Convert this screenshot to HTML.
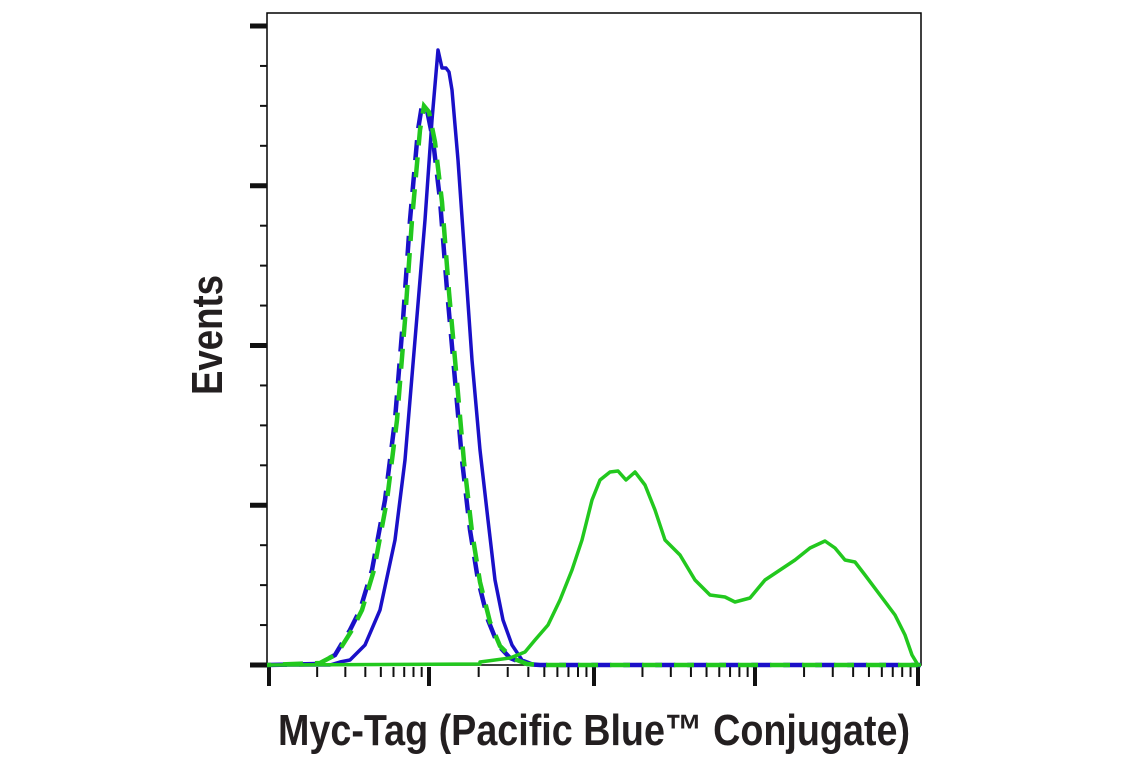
<!DOCTYPE html>
<html><head><meta charset="utf-8"><style>
html,body{margin:0;padding:0;background:#fff;}
svg{display:block;}
</style></head><body>
<svg id="s" width="1141" height="768" viewBox="0 0 1141 768" xmlns="http://www.w3.org/2000/svg">
<rect x="267" y="13" width="654" height="652" fill="none" stroke="#000" stroke-width="1.5"/>
<g id="ticks" stroke="#111"></g>
<polyline fill="none" stroke="#1a10c8" stroke-width="3.5" stroke-linejoin="round" points="267,665 330,665 340,662 350,660 365,645 380,610 395,540 405,460 415,340 425,220 432,120 438,50 442,68 446,68 449,72 452,90 458,160 465,260 472,360 480,450 488,520 495,580 503,620 512,645 522,660 535,665 921,665"/>
<polyline fill="none" stroke="#1a10c8" stroke-width="4.5" stroke-dasharray="20,12" points="267,665 318,664 335,655 350,630 360,610 372,570 385,500 395,420 403,320 410,220 418,130 422,105 427,110 433,140 440,200 447,290 455,380 462,460 470,530 478,580 488,620 498,645 510,658 525,664 540,665 921,665"/>
<polyline fill="none" stroke="#22c81e" stroke-width="4.5" stroke-dasharray="20,12" stroke-dashoffset="16" points="267,665 320,663 337,654 352,630 362,610 374,570 387,500 397,420 405,320 412,220 420,130 424,106 429,112 435,142 442,202 449,292 457,382 464,462 472,532 480,582 490,622 500,646 512,658 527,664 542,665 921,665"/>
<polyline fill="none" stroke="#22c81e" stroke-width="3.5" stroke-linejoin="round" points="267,665 480,664 480,662 510,658 525,652 535,640 548,625 560,600 572,570 582,540 592,500 600,480 610,472 618,471 626,480 635,472 645,485 655,510 665,540 680,555 695,580 710,595 725,597 735,602 750,598 765,580 780,570 795,560 810,548 825,541 835,548 845,560 855,562 865,575 880,595 895,615 905,635 912,655 918,665 921,665"/>
<text x="0" y="0" transform="translate(222,335) rotate(-90)" text-anchor="middle" font-family="Liberation Sans, sans-serif" font-weight="bold" font-size="44" textLength="120" lengthAdjust="spacingAndGlyphs" fill="#231f20">Events</text>
<text x="278" y="745" font-family="Liberation Sans, sans-serif" font-weight="bold" font-size="44" textLength="632" lengthAdjust="spacingAndGlyphs" fill="#231f20">Myc-Tag (Pacific Blue™ Conjugate)</text>
</svg>
<script>
var g=document.getElementById('ticks'),ns='http://www.w3.org/2000/svg';
function L(x1,y1,x2,y2,w){var l=document.createElementNS(ns,'line');l.setAttribute('x1',x1);l.setAttribute('y1',y1);l.setAttribute('x2',x2);l.setAttribute('y2',y2);l.setAttribute('stroke-width',w);g.appendChild(l);}
for(var i=0;i<=16;i++){var y=26+i*(665-26)/16;if(i%4==0)L(250,y,267,y,5);else L(260,y,267,y,2);}
var d=[269,429,594,755,918];
for(var k=0;k<5;k++){L(d[k],667,d[k],686,4);if(k<4){for(var m=2;m<10;m++){var x=d[k]+Math.log10(m)*(d[k+1]-d[k]);L(x,667,x,677,2);}}}
</script>
</body></html>
